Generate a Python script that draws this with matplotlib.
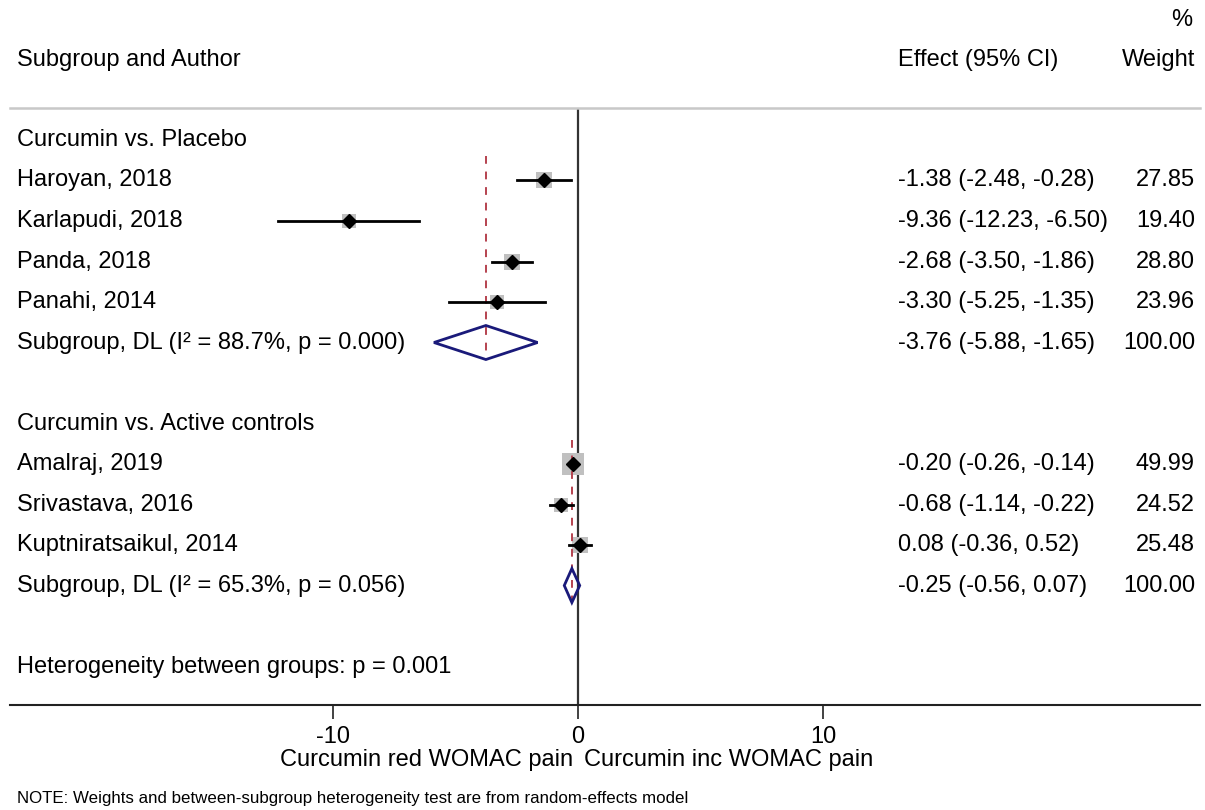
import numpy as np
import matplotlib.pyplot as plt
from matplotlib import transforms

plt.rcParams['font.family'] = ['Liberation Sans', 'DejaVu Sans']

# study rows
studies = ['Haroyan, 2018', 'Karlapudi, 2018', 'Panda, 2018', 'Panahi, 2014',
           'Amalraj, 2019', 'Srivastava, 2016', 'Kuptniratsaikul, 2014']
study_rows = [1, 2, 3, 4, 8, 9, 10]
est = [-1.38, -9.36, -2.68, -3.30, -0.20, -0.68, 0.08]
lo = [-2.48, -12.23, -3.50, -5.25, -0.26, -1.14, -0.36]
hi = [-0.28, -6.50, -1.86, -1.35, -0.14, -0.22, 0.52]
weights = [27.85, 19.40, 28.80, 23.96, 49.99, 24.52, 25.48]

# subgroup pooled rows
group_titles = ['Curcumin vs. Placebo', 'Curcumin vs. Active controls']
group_title_rows = [0, 7]
sub_labels = ['Subgroup, DL (I\u00b2 = 88.7%, p = 0.000)',
              'Subgroup, DL (I\u00b2 = 65.3%, p = 0.056)']
sub_rows = [5, 11]
sub_est = [-3.76, -0.25]
sub_lo = [-5.88, -0.56]
sub_hi = [-1.65, 0.07]
sub_w = [100.00, 100.00]

het_text = 'Heterogeneity between groups: p = 0.001'
het_row = 13
note = 'NOTE: Weights and between-subgroup heterogeneity test are from random-effects model'

FS = 17
W, H = 1205, 810

fig = plt.figure(figsize=(12.05, 8.10), dpi=100)
ax = fig.add_axes([10 / W, 1 - 705 / H, 1190 / W, (705 - 108) / H])
ax.set_xlim((10 - 578) / 24.5, (1200 - 578) / 24.5)
ax.set_ylim(13.95, -0.79)

for s in ['left', 'right']:
    ax.spines[s].set_visible(False)
ax.spines['top'].set_color('#c8c8c8')
ax.spines['top'].set_linewidth(1.8)
ax.spines['bottom'].set_color('#222222')
ax.spines['bottom'].set_linewidth(1.5)
ax.set_yticks([])
ax.set_xticks([-10, 0, 10])
ax.set_xticklabels(['-10', '0', '10'], fontsize=FS)
ax.tick_params(axis='x', length=10, width=1.2, color='#222222', pad=5)

# zero line
ax.axvline(0, color='#333333', lw=1.6, zorder=1)

# studies
for i in range(len(studies)):
    y = study_rows[i]
    ax.plot(est[i], y, marker='s', color='#c0c0c0', markersize=np.sqrt(weights[i]) * 2.15,
            markeredgewidth=0, zorder=2)
    ax.plot([lo[i], hi[i]], [y, y], color='black', lw=2, zorder=3)
    ax.plot(est[i], y, marker='D', color='black', markersize=7, zorder=4)

# subgroup diamonds and dashed lines
dash_spans = [(0.4, 5.4), (7.4, 11.35)]
for k in range(len(sub_est)):
    y = sub_rows[k]
    ax.plot([sub_est[k], sub_est[k]], dash_spans[k], color='#b5424f', lw=1.4,
            ls=(0, (4, 4)), zorder=2)
    ax.fill([sub_lo[k], sub_est[k], sub_hi[k], sub_est[k], sub_lo[k]],
            [y, y - 0.42, y, y + 0.42, y], facecolor='none', edgecolor='#1a1a7a',
            lw=2, zorder=3)

# text columns
tr = transforms.blended_transform_factory(fig.transFigure, ax.transData)
xl = 17 / W
xe = 898 / W
xw = 1195 / W

for t, r in zip(group_titles, group_title_rows):
    fig.text(xl, r, t, transform=tr, fontsize=FS, va='center')
for i in range(len(studies)):
    y = study_rows[i]
    fig.text(xl, y, studies[i], transform=tr, fontsize=FS, va='center')
    fig.text(xe, y, '%.2f (%.2f, %.2f)' % (est[i], lo[i], hi[i]), transform=tr,
             fontsize=FS, va='center')
    fig.text(xw, y, '%.2f' % weights[i], transform=tr, fontsize=FS, va='center', ha='right')
for k in range(len(sub_est)):
    y = sub_rows[k]
    fig.text(xl, y, sub_labels[k], transform=tr, fontsize=FS, va='center')
    fig.text(xe, y, '%.2f (%.2f, %.2f)' % (sub_est[k], sub_lo[k], sub_hi[k]),
             transform=tr, fontsize=FS, va='center')
    fig.text(xw, y, '%.2f' % sub_w[k], transform=tr, fontsize=FS, va='center', ha='right')
fig.text(xl, het_row, het_text, transform=tr, fontsize=FS, va='center')

# headers
fig.text(xl, 1 - 60 / H, 'Subgroup and Author', fontsize=FS, va='center')
fig.text(xe, 1 - 60 / H, 'Effect (95% CI)', fontsize=FS, va='center')
fig.text(xw, 1 - 60 / H, 'Weight', fontsize=FS, va='center', ha='right')
fig.text(1192 / W, 1 - 20 / H, '%', fontsize=FS, va='center', ha='right')

# axis captions
fig.text(573 / W, 1 - 760 / H, 'Curcumin red WOMAC pain', fontsize=FS, va='center', ha='right')
fig.text(584 / W, 1 - 760 / H, 'Curcumin inc WOMAC pain', fontsize=FS, va='center', ha='left')

fig.text(xl, 1 - 799 / H, note, fontsize=12.2, va='center')

fig.savefig('out.png', dpi=100)
